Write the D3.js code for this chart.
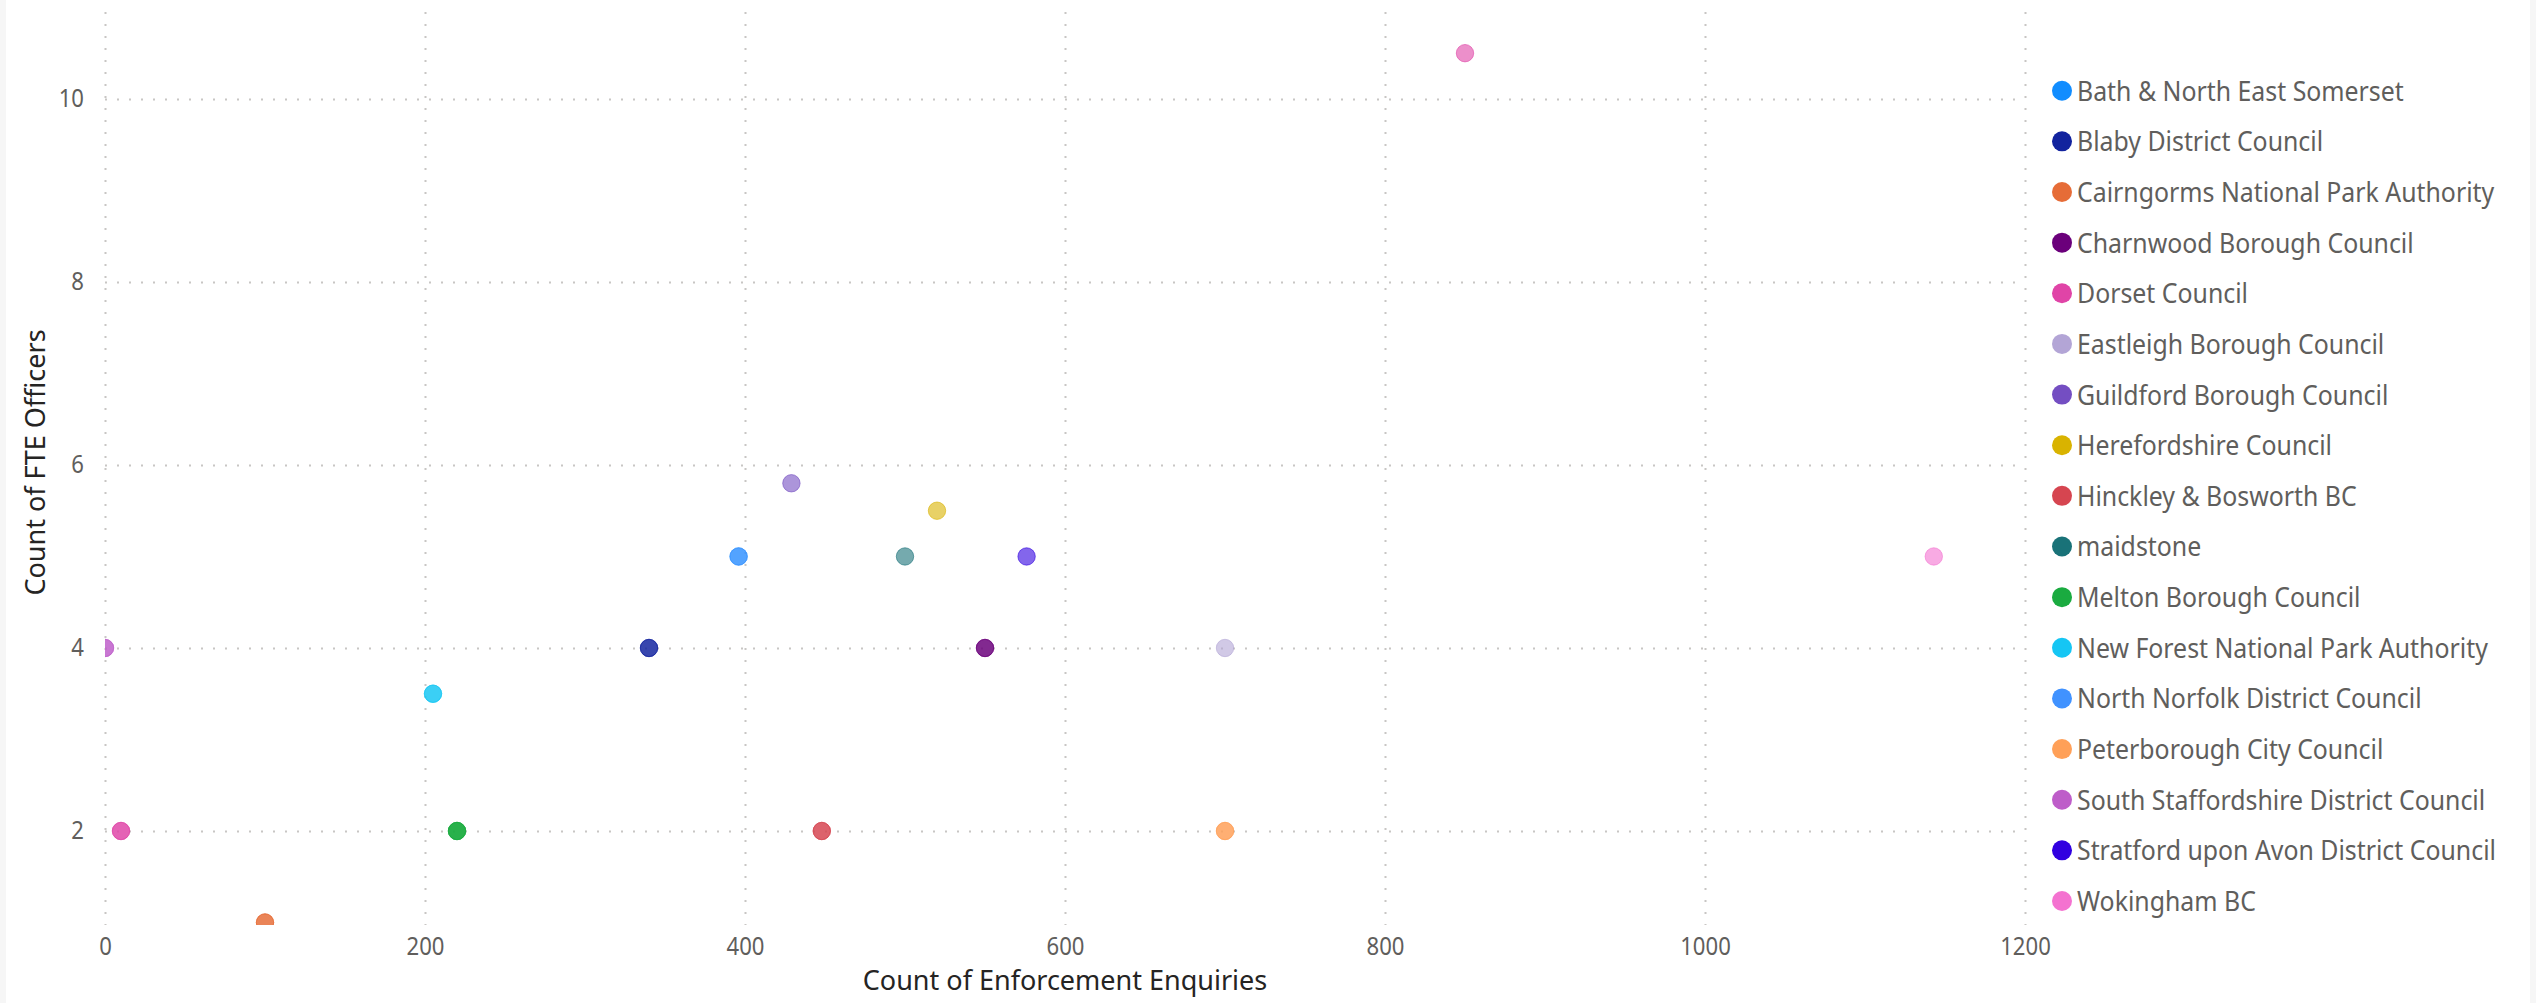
<!DOCTYPE html>
<html>
<head>
<meta charset="utf-8">
<script src="https://cdn.jsdelivr.net/npm/d3@7"></script>
<style>
  html, body { margin: 0; padding: 0; background: #ffffff; }
  svg { display: block; }
</style>
</head>
<body>
<svg id="chart" width="2536" height="1003"></svg>
<script>
// ---------------- DATA ----------------
const councils = [
  "Bath & North East Somerset",
  "Blaby District Council",
  "Cairngorms National Park Authority",
  "Charnwood Borough Council",
  "Dorset Council",
  "Eastleigh Borough Council",
  "Guildford Borough Council",
  "Herefordshire Council",
  "Hinckley & Bosworth BC",
  "maidstone",
  "Melton Borough Council",
  "New Forest National Park Authority",
  "North Norfolk District Council",
  "Peterborough City Council",
  "South Staffordshire District Council",
  "Stratford upon Avon District Council",
  "Wokingham BC"
];

// one entry per plotted point (records at identical positions overlap)
const pointCouncil = [
  "Bath & North East Somerset",
  "Blaby District Council",
  "Cairngorms National Park Authority",
  "Charnwood Borough Council",
  "Dorset Council",
  "Dorset Council",
  "Eastleigh Borough Council",
  "Guildford Borough Council",
  "Herefordshire Council",
  "Hinckley & Bosworth BC",
  "maidstone",
  "Melton Borough Council",
  "New Forest National Park Authority",
  "North Norfolk District Council",
  "Peterborough City Council",
  "South Staffordshire District Council",
  "Stratford upon Avon District Council",
  "Wokingham BC"
];
const enquiries   = [396, 340, 100, 550, 10, 850, 700, 429, 520, 448, 500, 220, 205, 396, 700, 0, 576, 1143];
const fteOfficers = [5,   4,   1,   4,   2,  10.5, 4,  5.8, 5.5, 2,   5,   2,   3.5, 5,   2,   4, 5,   5];
const recordCount = [1,   2,   2,   2,   2,  1,   1,   1,   1,   2,   1,   3,   2,   1,   2,   2, 1,   1];

const xTickValues = [0, 200, 400, 600, 800, 1000, 1200];
const yTickValues = [2, 4, 6, 8, 10];
const xTitle = "Count of Enforcement Enquiries";
const yTitle = "Count of FTE Officers";

// ---------------- STYLE ----------------
const councilColors = [
  "#118DFF", "#12239E", "#E66C37", "#6B007B", "#E044A7", "#B3A5D6",
  "#744EC2", "#D9B300", "#D64550", "#197278", "#1AAB40", "#15C6F4",
  "#4092FF", "#FFA058", "#BE5DC9", "#3100E0", "#F472D0"
];
const FONT = "'Noto Sans', 'Open Sans', sans-serif";

const svg = d3.select("#chart");
const W = 2536, H = 1003;

// frame
svg.append("rect").attr("width", W).attr("height", H).attr("fill", "#f6f6f6");
svg.append("rect").attr("x", 6).attr("y", 0).attr("width", W - 12).attr("height", H).attr("fill", "#ffffff");

const plot = { left: 105, right: 2025, top: 12, bottom: 925 };

const x = d3.scaleLinear().domain([0, 1200]).range([plot.left, plot.right]);
const y = d3.scaleLinear().domain([1, 10.95]).range([922.5, plot.top]);
const color = d3.scaleOrdinal().domain(councils).range(councilColors);

// helper: horizontal compression so a reference string at a given size has a target width
function squeeze(str, size, targetWidth) {
  const t = svg.append("text").attr("font-family", FONT).attr("font-size", size).text(str);
  const w = t.node().getComputedTextLength();
  t.remove();
  return Math.min(1, targetWidth / w);
}

const tickFont = 25, legendFont = 27, titleFont = 27;
const tickK = squeeze("200", tickFont, 38);
const legendK = squeeze("Bath & North East Somerset", legendFont, 327);
const titleK = squeeze(xTitle, titleFont, 406);

// ---------------- GRID ----------------
const gridStyle = g => g.selectAll("line")
  .attr("stroke", "#c8c6c4").attr("stroke-width", 2).attr("stroke-dasharray", "2,10");

const vg = svg.append("g").attr("transform", `translate(0,${plot.top})`)
  .call(d3.axisBottom(x).tickValues(xTickValues).tickSize(plot.bottom - plot.top).tickFormat(""));
vg.select(".domain").remove();
gridStyle(vg);

const hg = svg.append("g").attr("transform", `translate(${plot.left},0)`)
  .call(d3.axisRight(y).tickValues(yTickValues).tickSize(2020 - plot.left).tickFormat(""));
hg.select(".domain").remove();
gridStyle(hg);

// ---------------- AXES ----------------
const xAxis = svg.append("g").attr("transform", `translate(0,${plot.bottom})`)
  .call(d3.axisBottom(x).tickValues(xTickValues).tickSize(0).tickPadding(12).tickFormat(d3.format("d")));
xAxis.select(".domain").remove();
xAxis.selectAll(".tick text").attr("font-family", FONT).attr("font-size", tickFont).attr("fill", "#605E5C")
  .attr("x", null)
  .attr("transform", `scale(${tickK},1)`);

const yAxis = svg.append("g").attr("transform", `translate(84,0)`)
  .call(d3.axisLeft(y).tickValues(yTickValues).tickSize(0).tickPadding(0).tickFormat(d3.format("d")));
yAxis.select(".domain").remove();
yAxis.selectAll(".tick text").attr("font-family", FONT).attr("font-size", tickFont).attr("fill", "#605E5C")
  .attr("x", 0)
  .attr("transform", `scale(${tickK},1)`);

// titles
svg.append("text")
  .attr("transform", `translate(${(plot.left + plot.right) / 2},990) scale(${titleK},1)`)
  .attr("text-anchor", "middle").attr("font-family", FONT).attr("font-size", titleFont)
  .attr("fill", "#252423").text(xTitle);
svg.append("text")
  .attr("transform", `translate(45,${(plot.top + plot.bottom) / 2 - 6}) rotate(-90) scale(${titleK},1)`)
  .attr("text-anchor", "middle").attr("font-family", FONT).attr("font-size", titleFont)
  .attr("fill", "#252423").text(yTitle);

// ---------------- POINTS ----------------
svg.append("clipPath").attr("id", "plotclip").append("rect")
  .attr("x", plot.left).attr("y", plot.top)
  .attr("width", plot.right - plot.left).attr("height", plot.bottom - plot.top);

const pts = [];
pointCouncil.forEach((c, i) => {
  for (let k = 0; k < recordCount[i]; k++) pts.push({ c, x: enquiries[i], y: fteOfficers[i] });
});

svg.append("g").attr("clip-path", "url(#plotclip)")
  .selectAll("circle").data(pts).join("circle")
  .attr("cx", d => x(d.x)).attr("cy", d => y(d.y)).attr("r", 8.7)
  .attr("fill", d => color(d.c)).attr("fill-opacity", 0.6)
  .attr("stroke", d => color(d.c)).attr("stroke-opacity", 0.6).attr("stroke-width", 1);

// ---------------- LEGEND ----------------
const legendY = d3.scaleLinear().domain([0, councils.length - 1]).range([90.7, 901]);
const lg = svg.append("g").selectAll("g").data(councils).join("g")
  .attr("transform", (d, i) => `translate(2062,${legendY(i)})`);
lg.append("circle").attr("r", 10).attr("fill", d => color(d));
lg.append("text").attr("transform", `translate(15,10) scale(${legendK},1)`)
  .attr("font-family", FONT).attr("font-size", legendFont).attr("fill", "#605E5C").text(d => d);
</script>
</body>
</html>
